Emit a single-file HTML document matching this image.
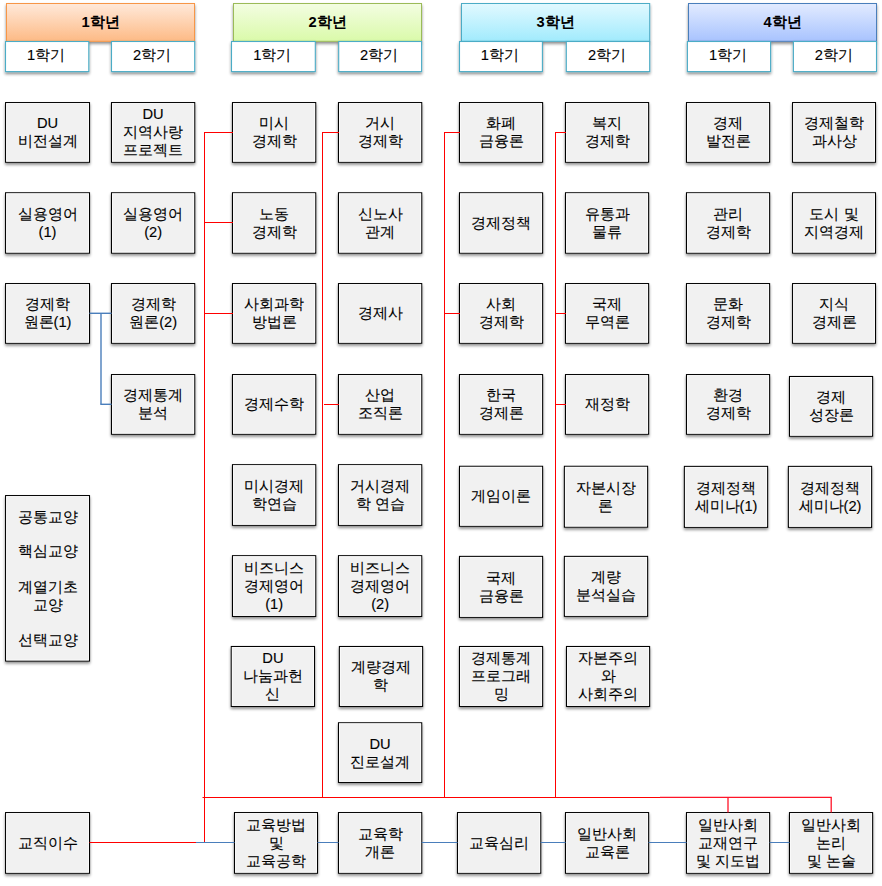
<!DOCTYPE html>
<html lang="ko">
<head>
<meta charset="utf-8">
<title>교육과정 이수체계도</title>
<style>
html,body{margin:0;padding:0;background:#fff;}
body{width:882px;height:886px;position:relative;overflow:hidden;font-family:"Liberation Sans",sans-serif;color:#000;}
svg{position:absolute;left:0;top:0;}
.t{position:absolute;display:flex;align-items:center;justify-content:center;text-align:center;font-size:14.67px;line-height:18px;white-space:nowrap;box-sizing:border-box;-webkit-text-stroke:0.12px #000;}
.h{font-weight:bold;-webkit-text-stroke:0;}

</style>
</head>
<body>
<svg width="882" height="886" viewBox="0 0 882 886">
<defs>
<filter id="sh" x="-10%" y="-10%" width="125%" height="130%"><feGaussianBlur in="SourceAlpha" stdDeviation="1.4"/><feOffset dx="0.4" dy="1.6"/><feComponentTransfer><feFuncA type="linear" slope="0.45"/></feComponentTransfer><feMerge><feMergeNode/><feMergeNode in="SourceGraphic"/></feMerge></filter>
<linearGradient id="g0" x1="0" y1="0" x2="0" y2="1"><stop offset="0" stop-color="#ffe9da"/><stop offset="1" stop-color="#fdba85"/></linearGradient>
<linearGradient id="g1" x1="0" y1="0" x2="0" y2="1"><stop offset="0" stop-color="#f3fde2"/><stop offset="1" stop-color="#dafaa9"/></linearGradient>
<linearGradient id="g2" x1="0" y1="0" x2="0" y2="1"><stop offset="0" stop-color="#e2f9ff"/><stop offset="1" stop-color="#a1ebfd"/></linearGradient>
<linearGradient id="g3" x1="0" y1="0" x2="0" y2="1"><stop offset="0" stop-color="#e2ebff"/><stop offset="1" stop-color="#a8c3fe"/></linearGradient>
</defs>
<g filter="url(#sh)">
<rect x="6.5" y="3.5" width="188" height="37.8" fill="url(#g0)" stroke="#f79646" stroke-width="1"/>
</g><g filter="url(#sh)">
<rect x="5.5" y="41.5" width="83.3" height="30.1" fill="#fff" stroke="#4bacc6" stroke-width="1.1"/>
<rect x="111.5" y="41.5" width="83.2" height="30.1" fill="#fff" stroke="#4bacc6" stroke-width="1.1"/>
</g>
<g filter="url(#sh)">
<rect x="233.5" y="3.5" width="188" height="37.8" fill="url(#g1)" stroke="#9bbb59" stroke-width="1"/>
</g><g filter="url(#sh)">
<rect x="231.5" y="41.5" width="83.8" height="30.1" fill="#fff" stroke="#4bacc6" stroke-width="1.1"/>
<rect x="338.7" y="41.5" width="82.9" height="30.1" fill="#fff" stroke="#4bacc6" stroke-width="1.1"/>
</g>
<g filter="url(#sh)">
<rect x="461.5" y="3.5" width="188.2" height="37.8" fill="url(#g2)" stroke="#4bacc6" stroke-width="1"/>
</g><g filter="url(#sh)">
<rect x="459.5" y="41.5" width="82.9" height="30.1" fill="#fff" stroke="#4bacc6" stroke-width="1.1"/>
<rect x="566.3" y="41.5" width="83.4" height="30.1" fill="#fff" stroke="#4bacc6" stroke-width="1.1"/>
</g>
<g filter="url(#sh)">
<rect x="688.5" y="3.5" width="188" height="37.8" fill="url(#g3)" stroke="#4a7ebb" stroke-width="1"/>
</g><g filter="url(#sh)">
<rect x="687.4" y="41.5" width="83.2" height="30.1" fill="#fff" stroke="#4bacc6" stroke-width="1.1"/>
<rect x="793.4" y="41.5" width="83.1" height="30.1" fill="#fff" stroke="#4bacc6" stroke-width="1.1"/>
</g>
<g filter="url(#sh)" fill="#f1f1f1" stroke="#000" stroke-width="1.1">
<rect x="5.6" y="102.6" width="83.9" height="59.6"/>
<rect x="111.5" y="102.6" width="83.2" height="59.6"/>
<rect x="232.5" y="102.6" width="83.2" height="59.6"/>
<rect x="338.5" y="102.6" width="83.2" height="59.6"/>
<rect x="459.5" y="102.6" width="83.1" height="59.6"/>
<rect x="565.5" y="102.6" width="83.1" height="59.6"/>
<rect x="686.5" y="102.6" width="83.1" height="59.6"/>
<rect x="792.6" y="102.6" width="82.9" height="59.6"/>
<rect x="5.6" y="192.8" width="83.9" height="60.3"/>
<rect x="111.5" y="192.8" width="83.2" height="60.3"/>
<rect x="232.5" y="192.8" width="83.2" height="60.3"/>
<rect x="338.5" y="192.8" width="83.2" height="60.3"/>
<rect x="459.5" y="192.8" width="83.1" height="60.3"/>
<rect x="565.5" y="192.8" width="83.1" height="60.3"/>
<rect x="686.5" y="192.8" width="83.1" height="60.3"/>
<rect x="792.6" y="192.8" width="82.9" height="60.3"/>
<rect x="5.6" y="283.6" width="83.9" height="59.6"/>
<rect x="111.5" y="283.6" width="83.2" height="59.6"/>
<rect x="232.5" y="283.6" width="83.2" height="59.6"/>
<rect x="338.5" y="283.6" width="83.2" height="59.6"/>
<rect x="459.5" y="283.6" width="83.1" height="59.6"/>
<rect x="565.5" y="283.6" width="83.1" height="59.6"/>
<rect x="686.5" y="283.6" width="83.1" height="59.6"/>
<rect x="792.6" y="283.6" width="82.9" height="59.6"/>
<rect x="111.5" y="374.6" width="83.2" height="59.6"/>
<rect x="232.5" y="374.6" width="83.2" height="59.6"/>
<rect x="338.5" y="374.6" width="83.2" height="59.6"/>
<rect x="459.5" y="374.6" width="83.1" height="59.6"/>
<rect x="565.5" y="374.6" width="83.1" height="59.6"/>
<rect x="686.5" y="374.6" width="83.1" height="59.6"/>
<rect x="789.5" y="376.5" width="83.1" height="59.7"/>
<rect x="232.5" y="464.7" width="83.2" height="60.6"/>
<rect x="338.5" y="464.7" width="83.2" height="60.6"/>
<rect x="459.5" y="466.3" width="83.1" height="59.9"/>
<rect x="564.4" y="466.3" width="83.2" height="60.8"/>
<rect x="684.4" y="466.4" width="83.2" height="60.9"/>
<rect x="788.4" y="466.4" width="83.2" height="60.9"/>
<rect x="232.5" y="555.7" width="83.2" height="60.7"/>
<rect x="338.5" y="555.7" width="83.2" height="60.7"/>
<rect x="459.5" y="556.4" width="83.1" height="60.9"/>
<rect x="564.4" y="556.4" width="83.2" height="59.9"/>
<rect x="231.3" y="646.5" width="83.2" height="59.9"/>
<rect x="339.4" y="646.5" width="83.2" height="59.9"/>
<rect x="459.5" y="646.5" width="83.1" height="59.9"/>
<rect x="566.5" y="646.5" width="83.1" height="59.9"/>
<rect x="338.5" y="722.8" width="83.2" height="59.6"/>
<rect x="5.6" y="812.6" width="83.9" height="60.6"/>
<rect x="234.5" y="812.6" width="83" height="60.6"/>
<rect x="338.5" y="812.6" width="83.2" height="60.6"/>
<rect x="457.5" y="812.6" width="83.2" height="60.6"/>
<rect x="565.5" y="812.6" width="83.1" height="60.6"/>
<rect x="686.5" y="812.6" width="83.1" height="60.6"/>
<rect x="789.5" y="812.6" width="83.1" height="60.6"/>
<rect x="5.6" y="495.6" width="83.9" height="165.4"/>
</g>
<g fill="none" stroke="#fbfbfb" stroke-width="0.9">
<rect x="6.6" y="103.6" width="81.9" height="57.6"/>
<rect x="112.5" y="103.6" width="81.2" height="57.6"/>
<rect x="233.5" y="103.6" width="81.2" height="57.6"/>
<rect x="339.5" y="103.6" width="81.2" height="57.6"/>
<rect x="460.5" y="103.6" width="81.1" height="57.6"/>
<rect x="566.5" y="103.6" width="81.1" height="57.6"/>
<rect x="687.5" y="103.6" width="81.1" height="57.6"/>
<rect x="793.6" y="103.6" width="80.9" height="57.6"/>
<rect x="6.6" y="193.8" width="81.9" height="58.3"/>
<rect x="112.5" y="193.8" width="81.2" height="58.3"/>
<rect x="233.5" y="193.8" width="81.2" height="58.3"/>
<rect x="339.5" y="193.8" width="81.2" height="58.3"/>
<rect x="460.5" y="193.8" width="81.1" height="58.3"/>
<rect x="566.5" y="193.8" width="81.1" height="58.3"/>
<rect x="687.5" y="193.8" width="81.1" height="58.3"/>
<rect x="793.6" y="193.8" width="80.9" height="58.3"/>
<rect x="6.6" y="284.6" width="81.9" height="57.6"/>
<rect x="112.5" y="284.6" width="81.2" height="57.6"/>
<rect x="233.5" y="284.6" width="81.2" height="57.6"/>
<rect x="339.5" y="284.6" width="81.2" height="57.6"/>
<rect x="460.5" y="284.6" width="81.1" height="57.6"/>
<rect x="566.5" y="284.6" width="81.1" height="57.6"/>
<rect x="687.5" y="284.6" width="81.1" height="57.6"/>
<rect x="793.6" y="284.6" width="80.9" height="57.6"/>
<rect x="112.5" y="375.6" width="81.2" height="57.6"/>
<rect x="233.5" y="375.6" width="81.2" height="57.6"/>
<rect x="339.5" y="375.6" width="81.2" height="57.6"/>
<rect x="460.5" y="375.6" width="81.1" height="57.6"/>
<rect x="566.5" y="375.6" width="81.1" height="57.6"/>
<rect x="687.5" y="375.6" width="81.1" height="57.6"/>
<rect x="790.5" y="377.5" width="81.1" height="57.7"/>
<rect x="233.5" y="465.7" width="81.2" height="58.6"/>
<rect x="339.5" y="465.7" width="81.2" height="58.6"/>
<rect x="460.5" y="467.3" width="81.1" height="57.9"/>
<rect x="565.4" y="467.3" width="81.2" height="58.8"/>
<rect x="685.4" y="467.4" width="81.2" height="58.9"/>
<rect x="789.4" y="467.4" width="81.2" height="58.9"/>
<rect x="233.5" y="556.7" width="81.2" height="58.7"/>
<rect x="339.5" y="556.7" width="81.2" height="58.7"/>
<rect x="460.5" y="557.4" width="81.1" height="58.9"/>
<rect x="565.4" y="557.4" width="81.2" height="57.9"/>
<rect x="232.3" y="647.5" width="81.2" height="57.9"/>
<rect x="340.4" y="647.5" width="81.2" height="57.9"/>
<rect x="460.5" y="647.5" width="81.1" height="57.9"/>
<rect x="567.5" y="647.5" width="81.1" height="57.9"/>
<rect x="339.5" y="723.8" width="81.2" height="57.6"/>
<rect x="6.6" y="813.6" width="81.9" height="58.6"/>
<rect x="235.5" y="813.6" width="81" height="58.6"/>
<rect x="339.5" y="813.6" width="81.2" height="58.6"/>
<rect x="458.5" y="813.6" width="81.2" height="58.6"/>
<rect x="566.5" y="813.6" width="81.1" height="58.6"/>
<rect x="687.5" y="813.6" width="81.1" height="58.6"/>
<rect x="790.5" y="813.6" width="81.1" height="58.6"/>
<rect x="6.6" y="496.6" width="81.9" height="163.4"/>
</g>
<line x1="204.5" y1="132" x2="204.5" y2="843" stroke="#ff0000" stroke-width="1"/>
<line x1="322.5" y1="132" x2="322.5" y2="797.5" stroke="#ff0000" stroke-width="1"/>
<line x1="444.5" y1="132" x2="444.5" y2="797.5" stroke="#ff0000" stroke-width="1"/>
<line x1="555.5" y1="132" x2="555.5" y2="797.5" stroke="#ff0000" stroke-width="1"/>
<line x1="204.5" y1="132.5" x2="233" y2="132.5" stroke="#ff0000" stroke-width="1"/>
<line x1="204.5" y1="222.5" x2="233" y2="222.5" stroke="#ff0000" stroke-width="1"/>
<line x1="204.5" y1="313.5" x2="233" y2="313.5" stroke="#ff0000" stroke-width="1"/>
<line x1="322.5" y1="132.5" x2="339" y2="132.5" stroke="#ff0000" stroke-width="1"/>
<line x1="324" y1="404.5" x2="339" y2="404.5" stroke="#ff0000" stroke-width="1"/>
<line x1="444.5" y1="132.5" x2="460" y2="132.5" stroke="#ff0000" stroke-width="1"/>
<line x1="444.5" y1="313.5" x2="460" y2="313.5" stroke="#ff0000" stroke-width="1"/>
<line x1="555.5" y1="132.5" x2="566" y2="132.5" stroke="#ff0000" stroke-width="1"/>
<line x1="555.5" y1="313.5" x2="566" y2="313.5" stroke="#ff0000" stroke-width="1"/>
<line x1="555.5" y1="404.5" x2="566" y2="404.5" stroke="#ff0000" stroke-width="1"/>
<line x1="202.5" y1="797.5" x2="660" y2="797.5" stroke="#ff0000" stroke-width="1"/>
<line x1="660" y1="797.4" x2="831.8" y2="797.4" stroke="#ff1428" stroke-width="1.3"/>
<line x1="728" y1="797.5" x2="728" y2="812.6" stroke="#ff1428" stroke-width="1.3"/>
<line x1="831.2" y1="797.5" x2="831.2" y2="812.6" stroke="#ff1428" stroke-width="1.3"/>
<line x1="89.5" y1="842.5" x2="196" y2="842.5" stroke="#ff0000" stroke-width="1"/>
<line x1="196" y1="842.5" x2="234.5" y2="842.5" stroke="#4a7ebb" stroke-width="1"/>
<line x1="317.5" y1="842.5" x2="338.5" y2="842.5" stroke="#4a7ebb" stroke-width="1"/>
<line x1="421.7" y1="842.5" x2="457.5" y2="842.5" stroke="#4a7ebb" stroke-width="1"/>
<line x1="540.7" y1="842.5" x2="565.5" y2="842.5" stroke="#4a7ebb" stroke-width="1"/>
<line x1="648.6" y1="842.5" x2="686.5" y2="842.5" stroke="#4a7ebb" stroke-width="1"/>
<line x1="769.6" y1="842.5" x2="789.5" y2="842.5" stroke="#4a7ebb" stroke-width="1"/>
<line x1="89.5" y1="313.3" x2="111.5" y2="313.3" stroke="#4a7ebb" stroke-width="1.4"/>
<line x1="101" y1="313.3" x2="101" y2="404.3" stroke="#4a7ebb" stroke-width="1.4"/>
<line x1="100.3" y1="404.3" x2="111.5" y2="404.3" stroke="#4a7ebb" stroke-width="1.4"/>
</svg>
<div class="t h" style="left:6.5px;top:3.5px;width:188px;height:37.8px"><span>1학년</span></div>
<div class="t" style="left:4.5px;top:40px;width:83.3px;height:30.1px"><span>1학기</span></div>
<div class="t" style="left:110.5px;top:40px;width:83.2px;height:30.1px"><span>2학기</span></div>
<div class="t h" style="left:233.5px;top:3.5px;width:188px;height:37.8px"><span>2학년</span></div>
<div class="t" style="left:230.5px;top:40px;width:83.8px;height:30.1px"><span>1학기</span></div>
<div class="t" style="left:337.7px;top:40px;width:82.9px;height:30.1px"><span>2학기</span></div>
<div class="t h" style="left:461.5px;top:3.5px;width:188.2px;height:37.8px"><span>3학년</span></div>
<div class="t" style="left:458.5px;top:40px;width:82.9px;height:30.1px"><span>1학기</span></div>
<div class="t" style="left:565.3px;top:40px;width:83.4px;height:30.1px"><span>2학기</span></div>
<div class="t h" style="left:688.5px;top:3.5px;width:188px;height:37.8px"><span>4학년</span></div>
<div class="t" style="left:686.4px;top:40px;width:83.2px;height:30.1px"><span>1학기</span></div>
<div class="t" style="left:792.4px;top:40px;width:83.1px;height:30.1px"><span>2학기</span></div>
<div class="t" style="left:5.6px;top:102.6px;width:83.9px;height:59.6px"><span>DU<br>비전설계</span></div>
<div class="t" style="left:111.5px;top:102.6px;width:83.2px;height:59.6px"><span>DU<br>지역사랑<br>프로젝트</span></div>
<div class="t" style="left:232.5px;top:102.6px;width:83.2px;height:59.6px"><span>미시<br>경제학</span></div>
<div class="t" style="left:338.5px;top:102.6px;width:83.2px;height:59.6px"><span>거시<br>경제학</span></div>
<div class="t" style="left:459.5px;top:102.6px;width:83.1px;height:59.6px"><span>화폐<br>금융론</span></div>
<div class="t" style="left:565.5px;top:102.6px;width:83.1px;height:59.6px"><span>복지<br>경제학</span></div>
<div class="t" style="left:686.5px;top:102.6px;width:83.1px;height:59.6px"><span>경제<br>발전론</span></div>
<div class="t" style="left:792.6px;top:102.6px;width:82.9px;height:59.6px"><span>경제철학<br>과사상</span></div>
<div class="t" style="left:5.6px;top:192.8px;width:83.9px;height:60.3px"><span>실용영어<br>(1)</span></div>
<div class="t" style="left:111.5px;top:192.8px;width:83.2px;height:60.3px"><span>실용영어<br>(2)</span></div>
<div class="t" style="left:232.5px;top:192.8px;width:83.2px;height:60.3px"><span>노동<br>경제학</span></div>
<div class="t" style="left:338.5px;top:192.8px;width:83.2px;height:60.3px"><span>신노사<br>관계</span></div>
<div class="t" style="left:459.5px;top:192.8px;width:83.1px;height:60.3px"><span>경제정책</span></div>
<div class="t" style="left:565.5px;top:192.8px;width:83.1px;height:60.3px"><span>유통과<br>물류</span></div>
<div class="t" style="left:686.5px;top:192.8px;width:83.1px;height:60.3px"><span>관리<br>경제학</span></div>
<div class="t" style="left:792.6px;top:192.8px;width:82.9px;height:60.3px"><span>도시 및<br>지역경제</span></div>
<div class="t" style="left:5.6px;top:283.6px;width:83.9px;height:59.6px"><span>경제학<br>원론(1)</span></div>
<div class="t" style="left:111.5px;top:283.6px;width:83.2px;height:59.6px"><span>경제학<br>원론(2)</span></div>
<div class="t" style="left:232.5px;top:283.6px;width:83.2px;height:59.6px"><span>사회과학<br>방법론</span></div>
<div class="t" style="left:338.5px;top:283.6px;width:83.2px;height:59.6px"><span>경제사</span></div>
<div class="t" style="left:459.5px;top:283.6px;width:83.1px;height:59.6px"><span>사회<br>경제학</span></div>
<div class="t" style="left:565.5px;top:283.6px;width:83.1px;height:59.6px"><span>국제<br>무역론</span></div>
<div class="t" style="left:686.5px;top:283.6px;width:83.1px;height:59.6px"><span>문화<br>경제학</span></div>
<div class="t" style="left:792.6px;top:283.6px;width:82.9px;height:59.6px"><span>지식<br>경제론</span></div>
<div class="t" style="left:111.5px;top:374.6px;width:83.2px;height:59.6px"><span>경제통계<br>분석</span></div>
<div class="t" style="left:232.5px;top:374.6px;width:83.2px;height:59.6px"><span>경제수학</span></div>
<div class="t" style="left:338.5px;top:374.6px;width:83.2px;height:59.6px"><span>산업<br>조직론</span></div>
<div class="t" style="left:459.5px;top:374.6px;width:83.1px;height:59.6px"><span>한국<br>경제론</span></div>
<div class="t" style="left:565.5px;top:374.6px;width:83.1px;height:59.6px"><span>재정학</span></div>
<div class="t" style="left:686.5px;top:374.6px;width:83.1px;height:59.6px"><span>환경<br>경제학</span></div>
<div class="t" style="left:789.5px;top:376.5px;width:83.1px;height:59.7px"><span>경제<br>성장론</span></div>
<div class="t" style="left:232.5px;top:464.7px;width:83.2px;height:60.6px"><span>미시경제<br>학연습</span></div>
<div class="t" style="left:338.5px;top:464.7px;width:83.2px;height:60.6px"><span>거시경제<br>학 연습</span></div>
<div class="t" style="left:459.5px;top:466.3px;width:83.1px;height:59.9px"><span>게임이론</span></div>
<div class="t" style="left:564.4px;top:466.3px;width:83.2px;height:60.8px"><span>자본시장<br>론</span></div>
<div class="t" style="left:684.4px;top:466.4px;width:83.2px;height:60.9px"><span>경제정책<br>세미나(1)</span></div>
<div class="t" style="left:788.4px;top:466.4px;width:83.2px;height:60.9px"><span>경제정책<br>세미나(2)</span></div>
<div class="t" style="left:232.5px;top:555.7px;width:83.2px;height:60.7px"><span>비즈니스<br>경제영어<br>(1)</span></div>
<div class="t" style="left:338.5px;top:555.7px;width:83.2px;height:60.7px"><span>비즈니스<br>경제영어<br>(2)</span></div>
<div class="t" style="left:459.5px;top:556.4px;width:83.1px;height:60.9px"><span>국제<br>금융론</span></div>
<div class="t" style="left:564.4px;top:556.4px;width:83.2px;height:59.9px"><span>계량<br>분석실습</span></div>
<div class="t" style="left:231.3px;top:646.5px;width:83.2px;height:59.9px"><span>DU<br>나눔과헌<br>신</span></div>
<div class="t" style="left:339.4px;top:646.5px;width:83.2px;height:59.9px"><span>계량경제<br>학</span></div>
<div class="t" style="left:459.5px;top:646.5px;width:83.1px;height:59.9px"><span>경제통계<br>프로그래<br>밍</span></div>
<div class="t" style="left:566.5px;top:646.5px;width:83.1px;height:59.9px"><span>자본주의<br>와<br>사회주의</span></div>
<div class="t" style="left:338.5px;top:722.8px;width:83.2px;height:59.6px"><span>DU<br>진로설계</span></div>
<div class="t" style="left:5.6px;top:812.6px;width:83.9px;height:60.6px"><span>교직이수</span></div>
<div class="t" style="left:234.5px;top:812.6px;width:83px;height:60.6px"><span>교육방법<br>및<br>교육공학</span></div>
<div class="t" style="left:338.5px;top:812.6px;width:83.2px;height:60.6px"><span>교육학<br>개론</span></div>
<div class="t" style="left:457.5px;top:812.6px;width:83.2px;height:60.6px"><span>교육심리</span></div>
<div class="t" style="left:565.5px;top:812.6px;width:83.1px;height:60.6px"><span>일반사회<br>교육론</span></div>
<div class="t" style="left:686.5px;top:812.6px;width:83.1px;height:60.6px"><span>일반사회<br>교재연구<br>및 지도법</span></div>
<div class="t" style="left:789.5px;top:812.6px;width:83.1px;height:60.6px"><span>일반사회<br>논리<br>및 논술</span></div>
<div class="t" style="left:5.6px;top:508.3px;width:83.9px;height:18px"><span>공통교양</span></div>
<div class="t" style="left:5.6px;top:542.4px;width:83.9px;height:18px"><span>핵심교양</span></div>
<div class="t" style="left:5.6px;top:578.3px;width:83.9px;height:18px"><span>계열기초</span></div>
<div class="t" style="left:5.6px;top:596.3px;width:83.9px;height:18px"><span>교양</span></div>
<div class="t" style="left:5.6px;top:631.3px;width:83.9px;height:18px"><span>선택교양</span></div>
</body>
</html>
